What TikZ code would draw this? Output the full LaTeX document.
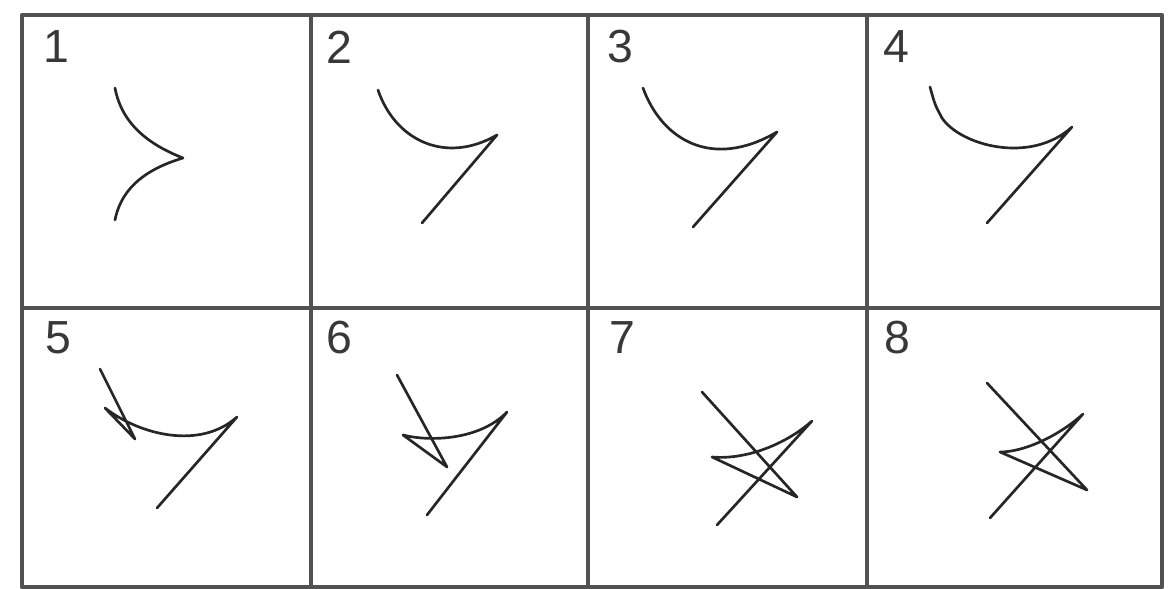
\documentclass[tikz,border=0pt]{standalone}
\usepackage{fontspec}
\setmainfont{Liberation Sans}

\begin{document}
\begin{tikzpicture}[x=0.025cm, y=-0.025cm, line join=round, line cap=round,
	frame/.style={draw=black!68, line width=3pt},
	rule/.style={draw=black!68, line width=2.2pt},
	pen/.style={draw=black!85, line width=1.9pt},
	tag/.style={font=\fontsize{33}{33}\selectfont, text=black!78, inner sep=0pt}]
	\useasboundingbox (0,0) rectangle (1176,589);
	% grid
	\draw[frame] (22,15) rectangle (1162,587);
	\foreach \x in {311,588,867} {\draw[rule] (\x,15) -- (\x,587);}
	\draw[rule] (22,308) -- (1162,308);
	% panel numbers
	\foreach \n/\x/\y in {1/56/47, 2/339/47, 3/620/47, 4/896/47, 5/58/338, 6/339/338, 7/622/338, 8/897/338}
		{\node[tag] (lab\n) at (\x,\y) {\n};}
	% top row
	\draw[pen] (115,88) .. controls (122,125) and (150,145) .. (183,158) .. controls (150,168) and (122,185) .. (115,220);
	\draw[pen] (378,90) .. controls (395,140) and (445,165) .. (497,135) -- (422,223);
	\draw[pen] (643,88) .. controls (662,140) and (712,170) .. (777,132) -- (693,227);
	\draw[pen] (930,87) .. controls (935,105) .. (942,118) .. controls (960,145) and (1030,165) .. (1072,127) -- (987,223);
	% bottom row
	\draw[pen] (100,369) -- (135,439) -- (105,408) .. controls (140,435) and (200,450) .. (237,417) -- (157,508);
	\draw[pen] (397,375) -- (447,467) -- (403,435) .. controls (430,442) and (480,440) .. (507,412) -- (427,515);
	\draw[pen] (702,392) -- (797,497) -- (712,457) .. controls (745,460) and (785,445) .. (812,421) -- (717,525);
	\draw[pen] (987,383) -- (1087,490) -- (1000,452) .. controls (1025,452) and (1060,435) .. (1083,414) -- (990,518);
\end{tikzpicture}
\end{document}
